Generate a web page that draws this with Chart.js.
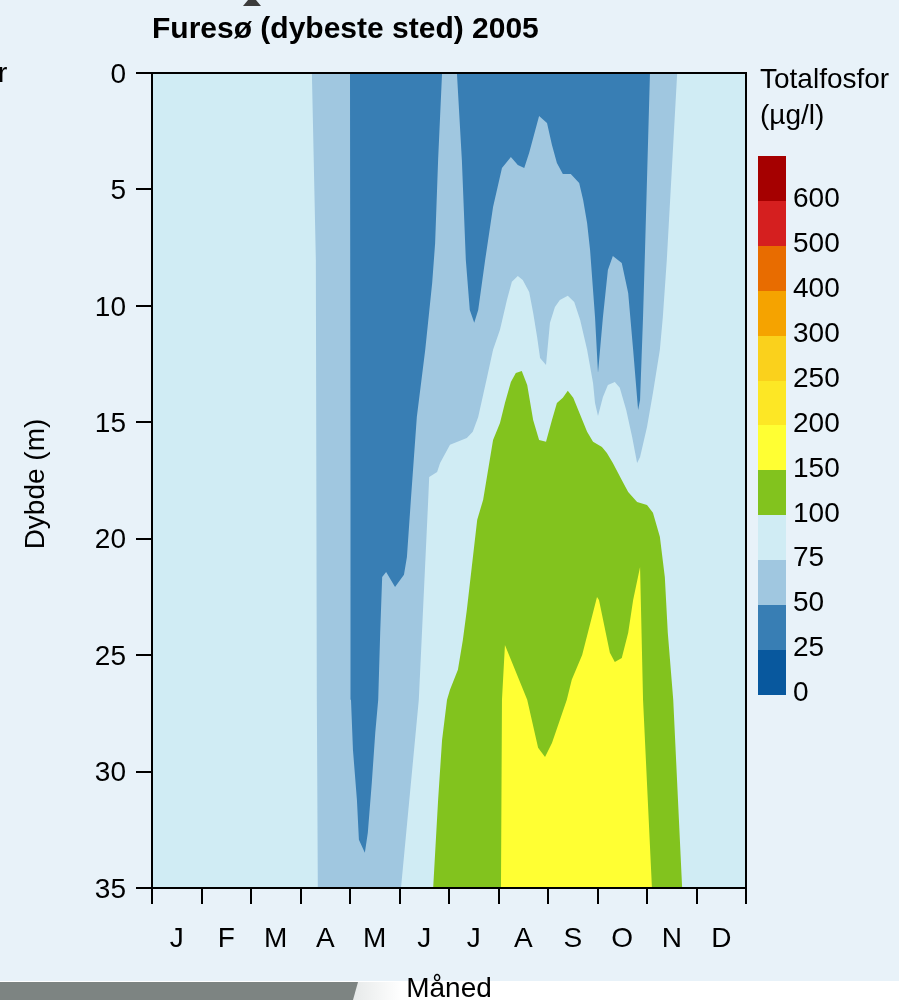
<!DOCTYPE html>
<html><head><meta charset="utf-8">
<script src="https://cdn.jsdelivr.net/npm/chart.js@4.4.0/dist/chart.umd.min.js"></script>
<style>
html,body{margin:0;padding:0;}
body{width:899px;height:1000px;background:#e8f2f9;position:relative;overflow:hidden;font-family:"Liberation Sans",Arial,Helvetica,sans-serif;color:#000;}
#c{position:absolute;left:0;top:0;}
.t{position:absolute;white-space:nowrap;font-size:28px;line-height:34px;}
</style></head><body>
<canvas id="c" width="899" height="1000"></canvas>
<div id="deco"></div>
<script>
// ---- data (months on x: 0 = 1 Jan, 12 = 31 Dec; depth in m) ----
const months = ['J','F','M','A','M','J','J','A','S','O','N','D'];
const depthRange = [0, 35];
const depthStep = 5;
const legendLabels = ['600','500','400','300','250','200','150','100','75','50','25','0'];
const legendColors = ['#a50000','#d51f1f','#e86c00','#f5a300','#fad11c','#fde725','#ffff33','#82c31e','#d0ecf4','#a0c7e0','#387eb4','#08589e'];

// contour polygons [month, depth]
const band50to75 = [[3.23,0],[10.61,0],[10.40,8.03],[10.32,10.48],[10.26,11.89],[10.12,13.74],[10.00,15.20],[9.86,16.49],[9.80,16.75],[9.70,15.63],[9.58,14.47],[9.45,13.52],[9.35,13.27],[9.21,13.40],[9.11,13.91],[9.01,14.73],[8.95,14.17],[8.91,13.31],[8.79,11.89],[8.65,10.61],[8.53,9.83],[8.40,9.57],[8.24,9.75],[8.14,10.05],[8.04,10.73],[7.96,12.54],[7.84,12.24],[7.78,11.34],[7.70,10.30],[7.62,9.40],[7.49,8.89],[7.39,8.72],[7.27,8.97],[7.17,9.75],[7.03,11.03],[6.89,11.89],[6.77,13.05],[6.59,14.77],[6.48,15.41],[6.36,15.67],[6.02,15.97],[5.82,16.75],[5.76,17.13],[5.60,17.35],[5.58,18.33],[5.39,26.92],[5.03,35],[3.35,35],[3.33,26.92],[3.31,8.03]];
const band25to50a = [[4.00,0],[5.86,0],[5.78,3.74],[5.72,7.30],[5.66,9.02],[5.52,11.89],[5.35,14.77],[5.23,18.33],[5.15,20.78],[5.09,21.55],[4.91,22.07],[4.73,21.43],[4.65,21.64],[4.61,24.04],[4.57,26.92],[4.51,28.34],[4.44,30.49],[4.36,32.63],[4.30,33.49],[4.18,32.93],[4.14,31.22],[4.06,29.07],[4.02,26.92],[4.01,18.33]];
const band25to50b = [[6.16,0],[10.06,0],[9.96,7.60],[9.92,10.48],[9.86,14.04],[9.82,14.47],[9.72,11.89],[9.62,9.45],[9.49,8.16],[9.31,7.86],[9.21,8.46],[9.11,10.48],[9.01,12.88],[8.95,10.48],[8.85,7.60],[8.79,6.44],[8.71,5.45],[8.63,4.72],[8.46,4.34],[8.30,4.34],[8.18,3.86],[8.08,3.09],[7.98,2.15],[7.82,1.85],[7.62,3.43],[7.52,4.08],[7.39,3.95],[7.25,3.61],[7.07,4.08],[6.89,5.75],[6.73,8.03],[6.59,10.18],[6.51,10.73],[6.42,10.18],[6.34,8.03],[6.26,3.74]];
const band100to150 = [[5.68,35],[5.78,31.22],[5.86,28.64],[5.96,26.92],[6.02,26.49],[6.18,25.63],[6.28,24.35],[6.36,23.06],[6.46,21.21],[6.57,19.19],[6.69,18.33],[6.89,15.76],[7.03,15.03],[7.13,14.17],[7.25,13.27],[7.35,12.88],[7.47,12.80],[7.58,13.40],[7.70,14.90],[7.82,15.76],[7.96,15.84],[8.08,14.90],[8.18,14.17],[8.30,13.95],[8.40,13.65],[8.51,13.95],[8.65,14.68],[8.79,15.41],[8.91,15.84],[9.09,16.06],[9.19,16.32],[9.31,16.75],[9.49,17.48],[9.62,17.99],[9.80,18.42],[10.00,18.55],[10.12,18.89],[10.26,19.92],[10.36,21.64],[10.42,24.04],[10.53,26.92],[10.71,35]];
const band150to200 = [[7.05,35],[7.07,26.92],[7.13,24.56],[7.58,26.92],[7.80,28.98],[7.94,29.37],[8.08,28.77],[8.24,27.78],[8.38,26.92],[8.48,26.06],[8.69,24.99],[8.99,22.50],[9.03,22.63],[9.25,24.90],[9.35,25.29],[9.49,25.12],[9.62,24.04],[9.72,22.63],[9.86,21.21],[9.92,26.92],[10.10,35]];

// ---- build ----
const FONT = '"Liberation Sans", Arial, Helvetica, sans-serif';
const toPts = p => p.map(([x, y]) => ({x, y}));
const nM = months.length;
const fullArea = [[0, depthRange[0]], [nM, depthRange[0]], [nM, depthRange[1]], [0, depthRange[1]]];
function poly(data, color, order) {
  return {data: toPts(data), showLine: true, fill: 'shape', backgroundColor: color,
          borderColor: color, borderWidth: 0, pointRadius: 0, pointHoverRadius: 0, tension: 0, order};
}
const datasets = [
  poly(fullArea, legendColors[8], 9),
  poly(band50to75, legendColors[9], 8),
  poly(band25to50a, legendColors[10], 7),
  poly(band25to50b, legendColors[10], 6),
  poly(band100to150, legendColors[7], 5),
  poly(band150to200, legendColors[6], 4)
];

const frame = {id: 'frame', afterDatasetsDraw(chart) {
  const {ctx, chartArea: a} = chart;
  ctx.save(); ctx.strokeStyle = '#000'; ctx.lineWidth = 2;
  ctx.strokeRect(a.left, a.top, a.right - a.left, a.bottom - a.top);
  ctx.restore();
}};

new Chart(document.getElementById('c'), {
  type: 'scatter',
  data: {datasets},
  options: {
    responsive: false, animation: false, events: [],
    layout: {padding: {left: 0, top: 73, right: 153, bottom: 0}},
    plugins: {legend: {display: false}, tooltip: {enabled: false}, title: {display: false}},
    scales: {
      x: {type: 'linear', min: 0, max: nM, display: false},
      xm: {type: 'category', labels: months, position: 'bottom', offset: true,
        grid: {offset: true, drawOnChartArea: false, tickLength: 16, color: '#000', lineWidth: 2},
        border: {display: false},
        ticks: {font: {size: 28, family: FONT}, color: '#000', padding: 18, maxRotation: 0, autoSkip: false},
        afterFit(s) { s.height = 112; }},
      y: {type: 'linear', reverse: true, min: depthRange[0], max: depthRange[1], position: 'left',
        ticks: {stepSize: depthStep, font: {size: 28, family: FONT}, color: '#000', padding: 10, labelOffset: 2},
        grid: {drawOnChartArea: false, tickLength: 16, color: '#000', lineWidth: 2},
        border: {display: false},
        afterFit(s) { s.width = 152; }}
    }
  },
  plugins: [frame]
});

// ---- texts, legend, page decorations ----
const deco = document.getElementById('deco');
function add(html, css) { const d = document.createElement('div'); d.className = 't'; d.innerHTML = html; d.style.cssText += css; deco.appendChild(d); return d; }
add('Furesø (dybeste sted) 2005', 'left:152px;top:10px;font-size:30px;line-height:36px;font-weight:bold;');
add('Totalfosfor', 'left:760px;top:62px;');
add('(µg/l)', 'left:760px;top:98px;');
add('Dybde (m)', 'left:-65px;top:467px;width:200px;text-align:center;transform:rotate(-90deg);');
add('Måned', 'left:349px;top:971px;width:200px;text-align:center;z-index:3;');
add('r', 'left:-2px;top:56px;');
const segH = 44.9, barTop = 156;
legendColors.forEach((c, i) => {
  const b = document.createElement('div');
  b.style.cssText = `position:absolute;left:758px;width:28px;top:${barTop + i * segH}px;height:${segH + 0.5}px;background:${c};`;
  deco.appendChild(b);
  add(legendLabels[i], `left:793px;top:${barTop + (i + 1) * segH + 7 - 26.7}px;`);
});
const w = document.createElement('div');
w.style.cssText = 'position:absolute;left:0;top:981px;width:899px;height:19px;background:#fff;z-index:1;';
deco.appendChild(w);
const g = document.createElement('div');
g.style.cssText = 'position:absolute;left:0;top:982px;width:358px;height:18px;background:#7d8482;clip-path:polygon(0 0,100% 0,98.6% 100%,0 100%);z-index:2;';
deco.appendChild(g);
const sh = document.createElement('div');
sh.style.cssText = 'position:absolute;left:352px;top:982px;width:50px;height:18px;background:linear-gradient(90deg,#e6e9e9,#ffffff);z-index:1;';
deco.appendChild(sh);
const tri = document.createElement('div');
tri.style.cssText = 'position:absolute;left:243px;top:0;width:18px;height:6px;background:#3c3c3c;clip-path:polygon(28% 0,72% 0,100% 100%,0 100%);';
deco.appendChild(tri);
</script>
</body></html>
